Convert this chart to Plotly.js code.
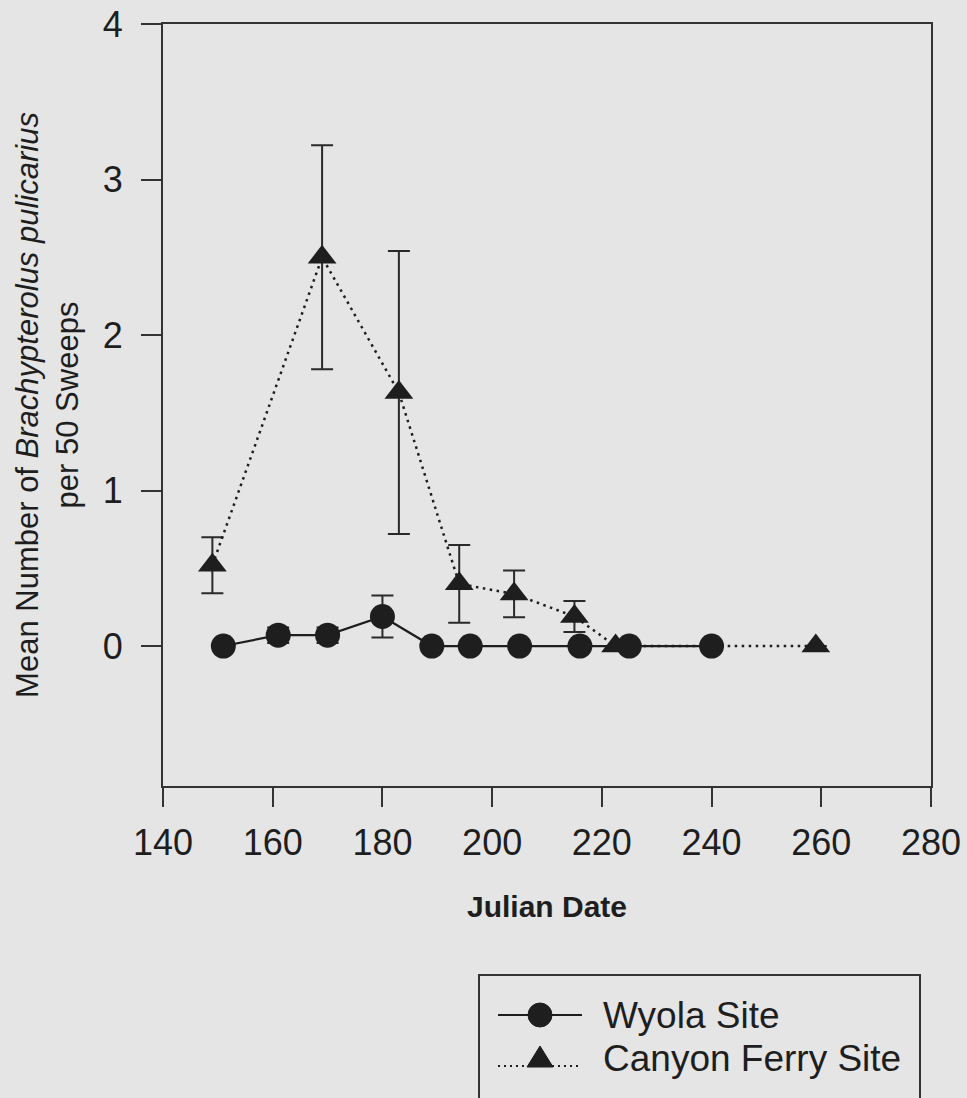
<!DOCTYPE html>
<html>
<head>
<meta charset="utf-8">
<script src="https://cdn.plot.ly/plotly-3.0.1.min.js"></script>
<style>html,body{margin:0;padding:0;background:#e5e5e5;}#chart{width:967px;height:1098px;}</style>
</head>
<body>
<div id="chart"></div>
<script>
// Wyola Site
const wyolaDay = [151, 161, 170, 180, 189, 196, 205, 216, 225, 240];
const wyolaMean = [0, 0.07, 0.07, 0.19, 0, 0, 0, 0, 0, 0];
const wyolaSE = [0, 0.05, 0.05, 0.135, 0, 0, 0, 0, 0, 0];

// Canyon Ferry Site
const canyonDay = [149, 169, 183, 194, 204, 215, 222.5, 259];
const canyonMean = [0.52, 2.5, 1.63, 0.40, 0.335, 0.19, 0, 0];
const canyonSE = [0.18, 0.72, 0.91, 0.25, 0.15, 0.10, 0, 0];

const xTicks = [140, 160, 180, 200, 220, 240, 260, 280];
const yTicks = [0, 1, 2, 3, 4];
const seriesNames = ['Wyola Site', 'Canyon Ferry Site'];

const ink = '#1e1e1e';
const font = 'Liberation Sans, Arial, sans-serif';

const traces = [
  {
    name: seriesNames[1],
    x: canyonDay, y: canyonMean,
    type: 'scatter', mode: 'lines+markers',
    line: {color: ink, width: 2.5, dash: '2.5px,4.5px'},
    marker: {symbol: 'triangle-up', size: 25, color: ink},
    error_y: {type: 'data', array: canyonSE, visible: true, color: '#2a2a2a', thickness: 2, width: 11}
  },
  {
    name: seriesNames[0],
    x: wyolaDay, y: wyolaMean,
    type: 'scatter', mode: 'lines+markers',
    line: {color: ink, width: 2.2},
    marker: {symbol: 'circle', size: 25, color: ink},
    error_y: {type: 'data', array: wyolaSE, visible: true, color: '#2a2a2a', thickness: 2, width: 11}
  }
];

// Legend box drawn in paper/pixel space (layout decoration)
const W = 967, H = 1098, ML = 163, MR = 36, MT = 24, MB = 312;
const pw = W - ML - MR, ph = H - MT - MB;
const px = v => (v - ML) / pw;          // pixel x -> paper x
const py = v => (H - MB - v) / ph;      // pixel y -> paper y

const legendShapes = [
  {type: 'rect', xref: 'paper', yref: 'paper', x0: px(479), x1: px(920), y0: py(975), y1: py(1110),
   line: {color: '#333', width: 2}, fillcolor: 'rgba(0,0,0,0)'},
  {type: 'line', xref: 'paper', yref: 'paper', x0: px(498), x1: px(582), y0: py(1015), y1: py(1015),
   line: {color: ink, width: 2.2}},
  {type: 'circle', xref: 'paper', yref: 'paper', x0: px(528), x1: px(552), y0: py(1003), y1: py(1027),
   line: {color: ink, width: 1}, fillcolor: ink},
  {type: 'line', xref: 'paper', yref: 'paper', x0: px(498), x1: px(582), y0: py(1066), y1: py(1066),
   line: {color: ink, width: 2, dash: '2px,4px'}},
  {type: 'path', xref: 'paper', yref: 'paper',
   path: 'M' + px(527) + ',' + py(1067) + ' L' + px(540) + ',' + py(1046) + ' L' + px(553) + ',' + py(1067) + ' Z',
   line: {color: ink, width: 1}, fillcolor: ink}
];
const legendText = [
  {xref: 'paper', yref: 'paper', x: px(601), y: py(1015), xanchor: 'left', yanchor: 'middle',
   text: seriesNames[0], showarrow: false, font: {family: font, size: 37, color: ink}},
  {xref: 'paper', yref: 'paper', x: px(601), y: py(1058), xanchor: 'left', yanchor: 'middle',
   text: seriesNames[1], showarrow: false, font: {family: font, size: 37, color: ink}}
];

const layout = {
  width: W, height: H,
  margin: {l: ML, r: MR, t: MT, b: MB},
  paper_bgcolor: '#e5e5e5',
  plot_bgcolor: '#e5e5e5',
  font: {family: font, color: ink},
  showlegend: false,
  shapes: legendShapes,
  annotations: legendText,
  xaxis: {
    range: [140, 280], tickvals: xTicks, ticktext: xTicks.map(String),
    showline: true, mirror: true, linecolor: '#333', linewidth: 2,
    ticks: 'outside', ticklen: 19, tickwidth: 2, tickcolor: '#333',
    showgrid: false, zeroline: false,
    tickfont: {family: font, size: 36, color: ink},
    ticklabelstandoff: 5,
    title: {text: '<b>Julian Date</b>', font: {family: font, size: 30, color: ink}, standoff: 34}
  },
  yaxis: {
    range: [-0.9, 4], tickvals: yTicks, ticktext: yTicks.map(String),
    showline: true, mirror: true, linecolor: '#333', linewidth: 2,
    ticks: 'outside', ticklen: 20, tickwidth: 2, tickcolor: '#333',
    showgrid: false, zeroline: false,
    tickfont: {family: font, size: 36, color: ink},
    ticklabelstandoff: 11,
    title: {text: 'Mean Number of <i>Brachypterolus pulicarius</i><br>per 50 Sweeps', font: {family: font, size: 31, color: ink}, standoff: 15}
  }
};

Plotly.newPlot('chart', traces, layout, {displayModeBar: false, staticPlot: true});
</script>
</body>
</html>
